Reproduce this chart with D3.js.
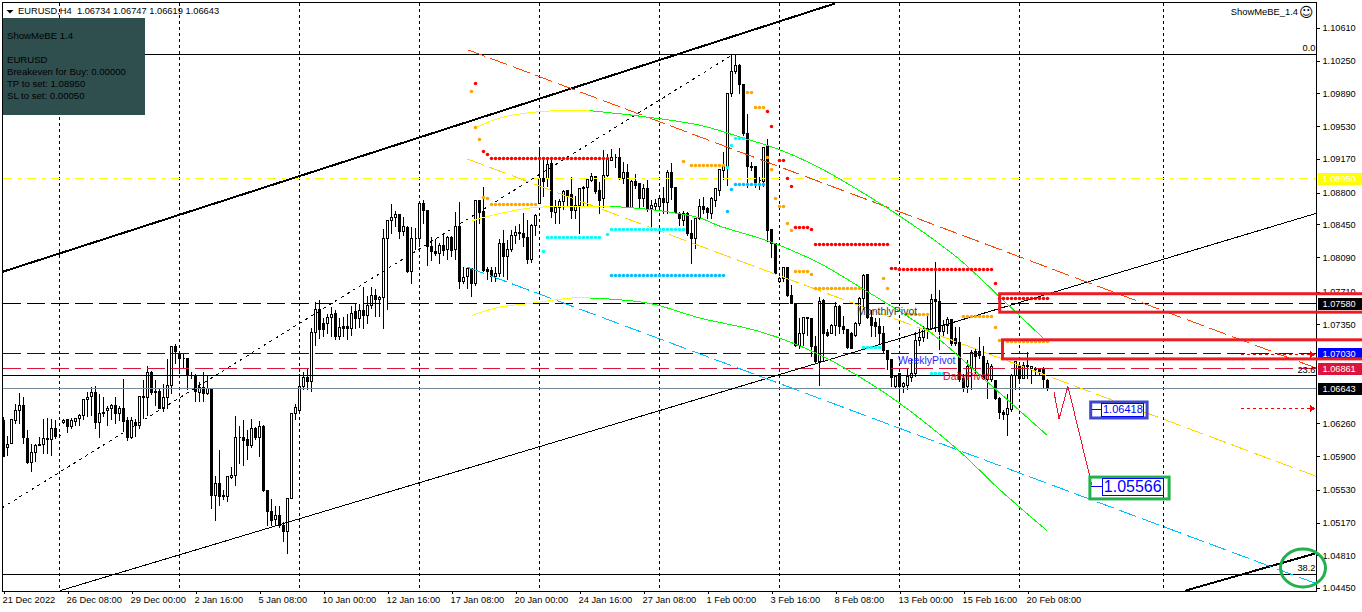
<!DOCTYPE html>
<html>
<head>
<meta charset="utf-8">
<title>EURUSD H4</title>
<script src="https://cdn.jsdelivr.net/npm/d3@7"></script>
<style>
  html, body { margin: 0; padding: 0; background: #fff; overflow: hidden; }
  svg { display: block; font-family: "Liberation Sans", Arial, sans-serif; }
  text { fill: #000; }
</style>
</head>
<body>
<svg id="chart" width="1362" height="612"></svg>
<script>
// Prices in pips (price x 10000), one entry per H4 bar
const barOpen = [
  10629,10600,10604,10629,10640,10646,10610,10583,10594,10603,
  10603,10610,10608,10620,10613,10627,10630,10623,10628,10631,
  10635,10652,10656,10660,10627,10638,10640,10642,10646,10637,
  10642,10629,10611,10627,10624,10656,10655,10682,10661,10661,
  10643,10655,10668,10711,10703,10698,10697,10679,10679,10660,
  10665,10659,10664,10547,10560,10546,10546,10567,10569,10611,
  10611,10608,10602,10620,10611,10623,10552,10529,10520,10525,
  10514,10507,10543,10637,10640,10667,10677,10672,10726,10751,
  10736,10736,10743,10747,10722,10733,10733,10730,10749,10741,
  10750,10745,10756,10767,10762,10765,10829,10849,10853,10856,
  10837,10842,10793,10830,10830,10868,10860,10821,10815,10813,
  10822,10817,10831,10817,10843,10782,10788,10796,10780,10871,
  10859,10795,10794,10788,10791,10824,10810,10817,10833,10836,
  10835,10831,10806,10844,10868,10895,10895,10912,10858,10863,
  10870,10882,10878,10860,10866,10884,10886,10893,10898,10882,
  10873,10899,10915,10919,10919,10895,10902,10864,10892,10890,
  10874,10884,10862,10865,10865,10874,10869,10902,10886,10857,
  10849,10857,10835,10830,10851,10865,10862,10857,10871,10882,
  10904,10908,10989,11013,11020,10999,10945,10909,10909,10893,
  10892,10931,10839,10824,10782,10786,10798,10767,10758,10712,
  10725,10742,10741,10711,10694,10761,10726,10725,10734,10755,
  10733,10729,10725,10723,10736,10764,10790,10742,10737,10733,
  10725,10706,10696,10667,10681,10667,10668,10677,10681,10717,
  10721,10729,10730,10762,10760,10727,10734,10740,10720,10715,
  10675,10667,10688,10705,10705,10700,10674,10674,10673,10654,
  10638,10636,10641,10679,10689,10676,10690,10686,10686,10686,10685,10673
];
const barHigh = [
  10634,10613,10630,10648,10660,10656,10619,10604,10604,10612,
  10631,10633,10632,10630,10615,10631,10632,10633,10633,10637,
  10653,10661,10667,10668,10659,10656,10646,10648,10656,10646,
  10675,10634,10634,10632,10656,10674,10690,10684,10674,10665,
  10670,10698,10711,10714,10703,10703,10698,10683,10681,10672,
  10683,10679,10664,10569,10597,10553,10569,10579,10635,10624,
  10630,10619,10631,10623,10629,10625,10553,10543,10536,10536,
  10518,10545,10637,10648,10681,10683,10687,10732,10760,10762,
  10742,10747,10755,10751,10742,10744,10747,10756,10758,10758,
  10777,10767,10777,10775,10767,10840,10850,10868,10860,10857,
  10854,10844,10843,10842,10870,10872,10861,10832,10830,10825,
  10835,10833,10833,10859,10870,10799,10799,10797,10871,10872,
  10887,10799,10799,10799,10830,10839,10828,10839,10844,10846,
  10858,10850,10846,10857,10927,10920,10917,10917,10872,10874,
  10883,10883,10898,10877,10885,10888,10896,10902,10898,10892,
  10927,10923,10929,10923,10930,10914,10912,10894,10901,10890,
  10890,10894,10872,10874,10877,10887,10905,10913,10887,10859,
  10860,10859,10850,10852,10874,10876,10865,10876,10885,10907,
  10925,10990,11033,11033,11022,10999,10967,10914,10910,10898,
  10931,10940,10839,10825,10788,10799,10799,10779,10759,10742,
  10743,10744,10742,10723,10766,10764,10731,10736,10760,10757,
  10745,10730,10727,10738,10766,10791,10791,10751,10743,10743,
  10734,10707,10698,10679,10682,10672,10687,10698,10727,10731,
  10734,10747,10769,10804,10773,10740,10744,10741,10733,10733,
  10681,10696,10707,10710,10722,10712,10696,10692,10674,10656,
  10641,10659,10681,10695,10694,10694,10705,10690,10689,10688,10689,10675
];
const barLow = [
  10590,10591,10604,10626,10626,10604,10582,10573,10584,10602,
  10593,10593,10591,10610,10611,10626,10616,10620,10624,10624,
  10630,10634,10635,10620,10611,10634,10624,10630,10626,10629,
  10617,10607,10609,10612,10621,10632,10635,10658,10646,10642,
  10639,10643,10659,10692,10681,10686,10663,10676,10650,10650,
  10650,10658,10533,10519,10536,10542,10540,10566,10558,10582,
  10580,10586,10600,10608,10590,10551,10514,10514,10514,10512,
  10496,10483,10543,10630,10639,10663,10663,10661,10712,10720,
  10722,10725,10722,10718,10718,10722,10718,10723,10731,10732,
  10731,10736,10753,10744,10744,10731,10751,10835,10843,10830,
  10833,10792,10780,10817,10821,10846,10800,10805,10811,10802,
  10811,10806,10810,10806,10775,10780,10775,10766,10778,10846,
  10793,10784,10782,10782,10788,10788,10784,10815,10824,10828,
  10821,10802,10803,10833,10868,10876,10887,10853,10846,10846,
  10861,10866,10851,10851,10835,10865,10866,10892,10879,10857,
  10863,10898,10916,10908,10894,10890,10863,10863,10884,10863,
  10865,10859,10839,10861,10861,10857,10857,10872,10857,10844,
  10844,10833,10802,10819,10850,10857,10852,10851,10865,10877,
  10894,10888,10986,11011,10989,10943,10886,10904,10886,10883,
  10887,10826,10809,10791,10781,10782,10766,10758,10711,10709,
  10712,10723,10700,10692,10668,10694,10722,10725,10723,10725,
  10725,10708,10708,10722,10734,10751,10741,10722,10722,10714,
  10703,10685,10667,10665,10652,10660,10663,10672,10678,10712,
  10716,10720,10729,10727,10707,10722,10725,10712,10712,10672,
  10661,10660,10663,10681,10698,10674,10654,10672,10652,10632,
  10630,10613,10639,10663,10672,10675,10675,10670,10679,10679,10666,10662
];
const barClose = [
  10590,10603,10630,10640,10646,10611,10583,10594,10602,10602,
  10610,10608,10620,10612,10613,10629,10623,10629,10631,10635,
  10652,10655,10660,10627,10637,10637,10642,10646,10637,10642,
  10628,10611,10629,10624,10656,10655,10682,10660,10660,10643,
  10655,10668,10711,10705,10698,10697,10679,10679,10661,10666,
  10659,10664,10547,10560,10546,10547,10568,10569,10611,10611,
  10607,10602,10620,10611,10623,10552,10529,10519,10525,10514,
  10507,10543,10637,10644,10667,10677,10672,10726,10751,10729,
  10729,10743,10746,10722,10732,10731,10730,10747,10741,10750,
  10745,10756,10767,10762,10765,10829,10849,10853,10856,10837,
  10843,10793,10829,10829,10868,10860,10821,10815,10813,10822,
  10816,10831,10816,10843,10782,10787,10797,10780,10871,10858,
  10794,10793,10788,10791,10824,10810,10817,10833,10836,10835,
  10831,10806,10844,10855,10895,10892,10911,10859,10863,10870,
  10881,10877,10860,10866,10884,10886,10894,10898,10881,10871,
  10899,10916,10919,10919,10896,10902,10864,10892,10888,10874,
  10884,10861,10866,10868,10874,10869,10902,10886,10858,10851,
  10857,10835,10830,10851,10865,10861,10858,10873,10884,10905,
  10909,10989,11013,11020,10999,10945,10909,10908,10891,10893,
  10930,10838,10824,10791,10786,10798,10767,10758,10712,10725,
  10742,10741,10711,10694,10760,10725,10723,10734,10755,10733,
  10729,10710,10709,10736,10764,10789,10742,10734,10733,10725,
  10706,10696,10677,10678,10667,10670,10678,10681,10717,10721,
  10729,10730,10762,10760,10727,10734,10740,10714,10714,10674,
  10666,10689,10704,10700,10701,10676,10692,10689,10654,10638,
  10636,10642,10679,10694,10676,10690,10689,10689,10685,10683,10674,10664
];

const priceTicks = [11061,11025,10989,10953,10917,10880,10845,10809,10771,10735,10626,10590,10553,10517,10481,10445];
const timeLabels = ['21 Dec 2022','26 Dec 08:00','29 Dec 00:00','2 Jan 16:00','5 Jan 08:00','10 Jan 00:00','12 Jan 16:00','17 Jan 08:00','20 Jan 00:00','24 Jan 16:00','27 Jan 08:00','1 Feb 00:00','3 Feb 16:00','8 Feb 08:00','13 Feb 00:00','15 Feb 16:00','20 Feb 08:00'];
const gridBars = [14,44,74,104,134,164,194,224,254,290];

// Trend lines as [bar, pips] end points
const thickTrend = [[-0.1,10793],[207.9,11088]];
const thickTrend2 = [[295.4,10442],[327.9,10483]];
const thinTrend = [[14.1,10442],[328.1,10857]];
const fibBase = [[-0.4,10533],[182.4,11032]];
const redChannel = [[116.1,11037],[328.1,10687]];
const goldChannel = [[115.9,10917],[328.1,10568]];
const skyChannel = [[115.9,10798],[328.1,10450]];

// Regression arcs: bright yellow part then green part
const arcTopYellow = [[117.9,10951],[124.1,10962],[134.1,10969],[146.6,10970]];
const arcTopGreen = [[146.6,10970],[159.1,10964],[174.1,10954],[184.9,10940],[194.1,10927],[204.1,10907],[216.6,10875],[229.1,10839],[239.1,10806],[249.1,10765],[259.9,10720]];
const arcMidYellow = [[117.1,10849],[124.1,10857],[131.6,10863],[141.6,10865],[151.6,10865]];
const arcMidGreen = [[151.6,10865],[164.1,10860],[174.1,10852],[179.1,10843],[191.6,10826],[204.1,10802],[214.1,10776],[230.9,10729],[247.4,10666],[260.9,10613]];
const arcLowYellow = [[117.1,10745],[124.1,10754],[131.6,10758],[142.1,10764],[146.6,10764]];
const arcLowGreen = [[146.6,10764],[161.6,10758],[174.1,10742],[189.1,10727],[203.4,10703],[214.1,10677],[224.1,10648],[238.6,10597],[249.1,10553],[260.9,10508]];

// Dot runs as [first bar, last bar, pips]
const redDots = [[118,118,11000],[120,120,10925],[121,121,10922],[122,151,10917],[191,191,10969],[192,192,10953],[194,195,10915],[196,196,10895],[197,197,10887],[198,201,10841],[202,202,10839],[203,221,10823],[222,223,10796],[224,247,10795],[248,248,10780],[249,261,10764]];
const orangeDots = [[117,117,10991],[118,118,10952],[119,119,10938],[120,120,10875],[121,121,10873],[122,133,10867],[170,170,10914],[172,180,10910],[186,187,10990],[188,190,10974],[191,191,10919],[192,192,10905],[193,193,10874],[194,195,10865],[196,196,10846],[197,197,10838],[198,201,10793],[202,202,10790],[203,214,10774],[220,220,10786],[221,221,10775],[226,231,10746],[240,247,10744],[248,248,10732],[249,249,10717],[251,261,10716]];
const cyanDots = [[135,135,10815],[136,149,10831],[151,151,10834],[152,170,10839],[181,181,10908],[182,182,10932],[183,185,10939],[215,219,10710],[232,235,10681]];
const skyDots = [[152,180,10789],[181,181,10859],[182,182,10883],[183,190,10889]];

const zigzag = [[262.6,10661],[263.9,10631],[266.1,10667],[272.1,10558]];
const arrowLevels = [10702,10643];

const fibZero = 11032, fibLevel236 = 10678.5, fibLevel382 = 10460;
const yellowLevel = 10895, blackLevel = 10758, blueLevel = 10703, crimsonLevel = 10686.1, bidLevel = 10664.3;

const svg = d3.select('#chart');
const LEFT = 2.5, TOP = 2.5, RIGHT = 1316.5, BOTTOM = 591.5;

const x = d3.scaleLinear().domain([0, 261]).range([3.5, 1047.5]);
const y = d3.scaleLinear().domain([11061, 10445]).range([28, 588]);
const snap = v => Math.round(v - 0.5) + 0.5;
const lineGen = d3.line().x(d => x(d[0])).y(d => y(d[1]));
const arcGen = d3.line().x(d => x(d[0])).y(d => y(d[1])).curve(d3.curveCatmullRom);

svg.append('defs').append('clipPath').attr('id', 'plot-clip')
  .append('rect').attr('x', LEFT).attr('y', TOP).attr('width', RIGHT - LEFT).attr('height', BOTTOM - TOP);

const plot = svg.append('g').attr('clip-path', 'url(#plot-clip)').attr('shape-rendering', 'crispEdges');

// ── Grid ─────────────────────────────────────────────────────────────
plot.selectAll('line.grid').data(gridBars).join('line').attr('class', 'grid')
  .attr('x1', d => x(d)).attr('x2', d => x(d))
  .attr('y1', TOP).attr('y2', BOTTOM)
  .attr('stroke', '#000').attr('stroke-dasharray', '3,3');

// ── Candles ──────────────────────────────────────────────────────────
const candles = plot.append('g');
barOpen.forEach((o, i) => {
  const c = barClose[i];
  const cx = x(i);
  candles.append('line')
    .attr('x1', cx).attr('x2', cx)
    .attr('y1', snap(y(barHigh[i]))).attr('y2', snap(y(barLow[i])))
    .attr('stroke', '#000');
  const t = snap(y(Math.max(o, c)));
  const b = snap(y(Math.min(o, c)));
  candles.append('path')
    .attr('d', `M${cx - 1},${t}H${cx + 1}V${b}H${cx - 1}Z`)
    .attr('fill', c >= o ? '#fff' : '#000')
    .attr('stroke', '#000');
});

// ── Horizontal levels ────────────────────────────────────────────────
function hLevel(v, color, dash, width) {
  plot.append('line')
    .attr('x1', LEFT).attr('x2', RIGHT)
    .attr('y1', snap(y(v))).attr('y2', snap(y(v)))
    .attr('stroke', color).attr('stroke-width', width || 1)
    .attr('stroke-dasharray', dash || null);
}
hLevel(fibZero, '#000');
hLevel(fibLevel236, '#000');
hLevel(fibLevel382, '#000');
hLevel(yellowLevel, '#ffff00', '9,6,3,6');
hLevel(blackLevel, '#000', '18,6');
hLevel(blueLevel, '#0000d8', '18,6');
hLevel(crimsonLevel, '#dc143c', '18,6');
hLevel(bidLevel, '#778899');

// ── Trend lines and channels ─────────────────────────────────────────
function drawLine(pts, color, width, dash, gen) {
  plot.append('path').attr('d', (gen || lineGen)(pts))
    .attr('fill', 'none').attr('stroke', color)
    .attr('stroke-width', width).attr('stroke-dasharray', dash || null);
}
drawLine(thickTrend, '#000', 2);
drawLine(thickTrend2, '#000', 2);
drawLine(thinTrend, '#000', 1);
drawLine(fibBase, '#000', 1, '3,4');
drawLine(redChannel, '#ff4500', 1, '18,6');
drawLine(goldChannel, '#ffd700', 1, '18,6');
drawLine(skyChannel, '#00bfff', 1, '18,6');
[arcTopYellow, arcMidYellow, arcLowYellow].forEach(a => drawLine(a, '#ffff00', 1, null, arcGen));
[arcTopGreen, arcMidGreen, arcLowGreen].forEach(a => drawLine(a, '#00ff00', 1, null, arcGen));
drawLine(zigzag, '#f0142f', 1);

// ── Dots ─────────────────────────────────────────────────────────────
function drawDots(runs, color) {
  const pts = runs.flatMap(r => d3.range(r[0], r[1] + 1).map(b => [b, r[2]]));
  plot.append('g').attr('shape-rendering', 'auto').selectAll('circle').data(pts).join('circle')
    .attr('cx', d => x(d[0])).attr('cy', d => snap(y(d[1])))
    .attr('r', 1.75)
    .attr('fill', color);
}
drawDots(orangeDots, '#ffa500');
drawDots(redDots, '#ff0000');
drawDots(cyanDots, '#00ffff');
drawDots(skyDots, '#00bfff');

// ── Text on the chart ────────────────────────────────────────────────
const pivotLabels = [['MonthlyPivot', 213.4, 10745, '#3a3a30'], ['WeeklyPivot', 223.6, 10691, '#2a2aff'], ['DailyPivot', 234.9, 10674, '#dc143c']];
plot.selectAll('text.pivot').data(pivotLabels).join('text').attr('class', 'pivot')
  .attr('x', d => x(d[1])).attr('y', d => y(d[2]))
  .style('fill', d => d[3]).attr('font-size', 10.5).text(d => d[0]);

const fibLabels = [['0.0', fibZero], ['23.6', fibLevel236], ['38.2', fibLevel382]];
plot.selectAll('text.fib').data(fibLabels).join('text').attr('class', 'fib')
  .attr('x', RIGHT - 1).attr('y', d => y(d[1]) - 3)
  .attr('text-anchor', 'end').attr('font-size', 9.3).text(d => d[0]);

// ── Dotted arrows ────────────────────────────────────────────────────
arrowLevels.forEach(v => {
  const yy = snap(y(v));
  plot.append('line').attr('x1', x(309.4)).attr('x2', x(326.6)).attr('y1', yy).attr('y2', yy)
    .attr('stroke', '#ff0000').attr('stroke-dasharray', '3,3');
  plot.append('path').attr('d', `M${x(326.6)},${yy - 4}L${x(326.6) + 5},${yy}L${x(326.6)},${yy + 4}Z`)
    .attr('fill', '#ff0000');
});

// ── Axes ─────────────────────────────────────────────────────────────
const yAxis = d3.axisRight(y).tickValues(priceTicks).tickSize(3).tickPadding(3)
  .tickFormat(d => (d / 10000).toFixed(5));
const yG = svg.append('g').attr('transform', `translate(${RIGHT},0)`).attr('shape-rendering', 'crispEdges').call(yAxis);
yG.select('.domain').remove();
yG.selectAll('text').attr('font-size', 9.2).attr('font-family', null);

const xAxis = d3.axisBottom(x).tickValues(d3.range(0, timeLabels.length).map(k => k * 16)).tickSize(2).tickPadding(3)
  .tickFormat((d, k) => timeLabels[k]);
const xG = svg.append('g').attr('transform', `translate(0,${BOTTOM})`).attr('shape-rendering', 'crispEdges').call(xAxis);
xG.select('.domain').remove();
xG.selectAll('text').attr('font-size', 9.3).attr('font-family', null).attr('text-anchor', 'start').attr('x', -1.5);

svg.append('rect').attr('x', LEFT).attr('y', TOP).attr('width', RIGHT - LEFT).attr('height', BOTTOM - TOP)
  .attr('fill', 'none').attr('stroke', '#000').attr('shape-rendering', 'crispEdges');

// ── Price tags on the axis ───────────────────────────────────────────
const tagLevels = [[yellowLevel, 10895, '#ffff00', '#fff'], [blackLevel, 10758, '#000', '#fff'], [blueLevel, 10703, '#0000ff', '#fff'], [crimsonLevel, 10686.1, '#dc143c', '#fff'], [bidLevel, 10664.3, '#000', '#fff']];
const tags = svg.append('g').selectAll('g').data(tagLevels).join('g')
  .attr('transform', d => `translate(1318,${snap(y(d[0]))})`);
tags.append('rect').attr('y', -5.5).attr('width', 44).attr('height', 12).attr('fill', d => d[2]).attr('shape-rendering', 'crispEdges');
tags.append('text').attr('x', 4.5).attr('y', 3.8).attr('font-size', 9.2).style('fill', d => d[3]).text(d => (d[1] / 10000).toFixed(5));

// ── Drawn annotations (zones, level boxes, circle) ───────────────────
const zoneRed = [[249.05, 340.1, 10768.7, 10748.4], [249.75, 340.1, 10718, 10697]];
svg.append('g').selectAll('rect').data(zoneRed).join('rect')
  .attr('x', d => x(d[0])).attr('y', d => y(d[2]))
  .attr('width', d => x(d[1]) - x(d[0])).attr('height', d => y(d[3]) - y(d[2]))
  .attr('fill', 'none').attr('stroke', '#ed1c24').attr('stroke-width', 3);

const targetBoxes = [
  { l: 271.8, r: 285.9, top: 10649.6, bot: 10632, color: '#3f48cc', value: 10641.8, labelL: 274.5, labelR: 284.9, size: 11, h: 6.5 },
  { l: 271.6, r: 291.4, top: 10567, bot: 10543, color: '#22b14c', value: 10556.6, labelL: 274.7, labelR: 290, size: 16, h: 8.5 }
];
targetBoxes.forEach(b => {
  const yy = snap(y(b.value));
  svg.append('rect').attr('x', x(b.l)).attr('y', y(b.top))
    .attr('width', x(b.r) - x(b.l)).attr('height', y(b.bot) - y(b.top))
    .attr('fill', 'none').attr('stroke', b.color).attr('stroke-width', 3);
  svg.append('line').attr('x1', x(b.l) + 1).attr('x2', x(b.labelL)).attr('y1', yy).attr('y2', yy)
    .attr('stroke', '#0000ff').attr('shape-rendering', 'crispEdges');
  svg.append('rect').attr('x', x(b.labelL)).attr('y', yy - b.h)
    .attr('width', x(b.labelR) - x(b.labelL)).attr('height', b.h * 2)
    .attr('fill', '#fff').attr('stroke', '#0000ff').attr('shape-rendering', 'crispEdges');
  svg.append('text').attr('x', x(b.labelL) + 1.5).attr('y', yy + b.size * 0.36)
    .attr('font-size', b.size).style('fill', '#0000ff').text((b.value / 10000).toFixed(5));
});

svg.append('ellipse').attr('cx', 1303).attr('cy', 568).attr('rx', 22.5).attr('ry', 19)
  .attr('fill', 'none').attr('stroke', '#22b14c').attr('stroke-width', 3);

// ── Title and ShowMeBE panel ─────────────────────────────────────────
svg.append('path').attr('d', 'M6.5,10H13.5L10,13.5Z').attr('fill', '#000');
svg.append('text').attr('x', 18).attr('y', 14).attr('font-size', 9.3).attr('xml:space', 'preserve')
  .text('EURUSD,H4  1.06734 1.06747 1.06619 1.06643');
svg.append('text').attr('x', 1298).attr('y', 15).attr('text-anchor', 'end').attr('font-size', 9.4).text('ShowMeBE_1.4');
svg.append('text').attr('x', 1299).attr('y', 16.5).attr('font-size', 14).style('font-family', '"DejaVu Sans"').text('\u263A');

svg.append('rect').attr('x', 3).attr('y', 18).attr('width', 142).attr('height', 97).attr('fill', '#2f4f4f');
const panelLines = [['ShowMeBE 1.4', 39], ['EURUSD', 63], ['Breakeven for Buy: 0.00000', 75], ['TP to set: 1.08950', 87], ['SL to set: 0.00050', 99]];
svg.selectAll('text.panel').data(panelLines).join('text').attr('class', 'panel')
  .attr('x', 7).attr('y', d => d[1]).attr('font-size', 9.6).text(d => d[0]);
</script>
</body>
</html>
